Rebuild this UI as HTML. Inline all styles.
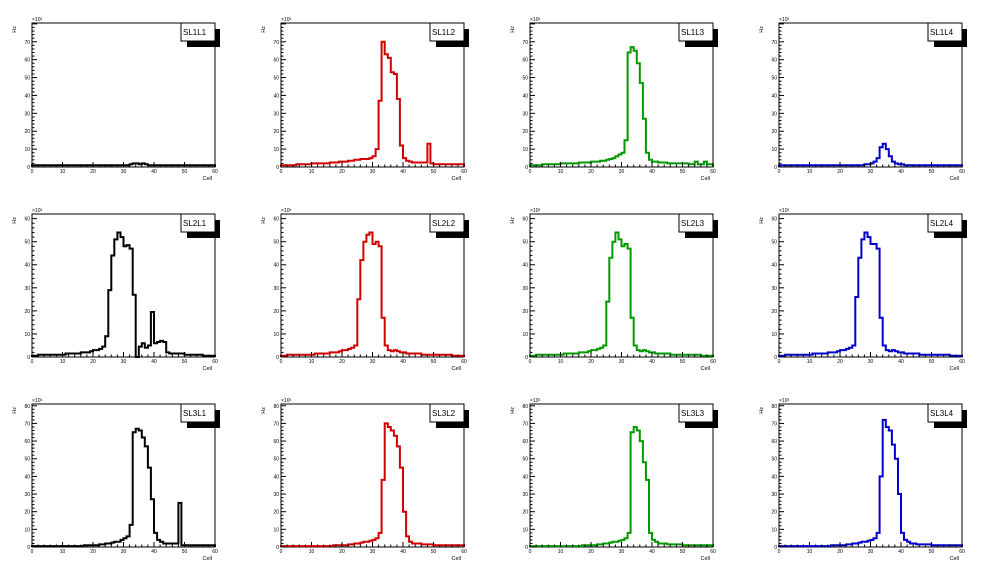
<!DOCTYPE html>
<html><head><meta charset="utf-8"><style>
body{margin:0;background:#fff;}
svg{display:block;font-family:"Liberation Sans",sans-serif;}
</style></head><body>
<svg id="c" width="996" height="572"></svg>
<script>
const titles=["SL1L1","SL1L2","SL1L3","SL1L4","SL2L1","SL2L2","SL2L3","SL2L4","SL3L1","SL3L2","SL3L3","SL3L4"];
const colors=["#000","#d00000","#009900","#0000cc"];
const rowYmax=[80.5,62,81];
const xTicks=[0,10,20,30,40,50,60];
const yTicksRow=[[0,10,20,30,40,50,60,70],[0,10,20,30,40,50,60],[0,10,20,30,40,50,60,70,80]];
const hSL1L1=[1,1,1,1,1,1,1,1,1,1,1,1,1,1,1,1,1,1,1,1,1,1,1,1,1,1,1,1,1,1,1,1,1.5,2,2,1.5,2,1.5,1,1,1,1,1,1,1,1,1,1,1,1,1,1,1,1,1,1,1,1,1,1];
const hSL1L2=[1,1,1,1,1,1.5,1.5,1.5,1.5,1.5,2,2,2,2,2,2,2.5,2.5,2.5,3,3,3,3.5,3.5,4,4,4.5,4.5,4.5,5,6,10,37,70,63,61,53,52,38,12,5,3.5,3,2.5,2.5,2.5,2.5,2.5,13,2,1.5,1.5,1.5,1.5,1.5,1.5,1.5,1.5,1.5,1.5];
const hSL1L3=[1,1,1,1,1.5,1.5,1.5,1.5,1.5,1.5,2,2,2,2,2,2,2.5,2.5,2.5,2.5,3,3,3,3.5,3.5,4,4.5,5,6,7,8,15,64,67,65,58,47,27,8,4,3,3,2.5,2.5,2.5,2,2,2,2,2,2,2,1.5,1.5,3,1.5,1.5,3,1.5,1.5];
const hSL1L4=[1,1,1,1,1,1,1,1,1,1,1,1,1,1,1,1,1,1,1,1,1,1,1,1,1,1,1,1,1.5,1.5,2,3,5,11,13,10,6,3,2,1.5,1.5,1,1,1,1,1,1,1,1,1,1,1,1,1,1,1,1,1,1,1];
const hSL2L1=[0.5,0.5,1,1,1,1,1,1,1,1,1,1.5,1.5,1.5,1.5,1.5,2,2,2,2.5,3,3,3.5,4.5,9,29,44,51,54,52,48,48.5,47,27,0,4.5,6,4,5,19.5,6,6.5,7,6.5,2,1.5,1.5,1.5,1.5,1.5,1,1,1,1,1,1,0.5,0.5,0.5,0.5];
const hSL2L2=[0.5,0.5,1,1,1,1,1,1,1,1,1,1.5,1.5,1.5,1.5,1.5,2,2,2,2.5,3,3,3.5,4,5,25,42,50,53,54,49,50,48,17,5,3,2.5,3,2.5,2,2,1.5,1.5,1.5,1.5,1.5,1,1,1,1,1,1,1,1,1,1,0.5,0.5,0.5,0.5];
const hSL2L3=[0.5,0.5,1,1,1,1,1,1,1,1,1,1.5,1.5,1.5,1.5,1.5,2,2,2,2.5,3,3,3.5,4,5,24,43,50,54,51,48,49,47,17,5,3,2.5,3,2.5,2,2,1.5,1.5,1.5,1.5,1.5,1,1,1,1,1,1,1,1,1,1,0.5,0.5,0.5,0.5];
const hSL2L4=[0.5,0.5,1,1,1,1,1,1,1,1,1,1.5,1.5,1.5,1.5,1.5,2,2,2,2.5,3,3,3.5,4,5,26,43,51,54,52,49,49,47,17,5,3,2.5,3,2.5,2,2,1.5,1.5,1.5,1.5,1.5,1,1,1,1,1,1,1,1,1,1,0.5,0.5,0.5,0.5];
const hSL3L1=[0.5,0.5,0.5,0.5,0.5,0.5,0.5,0.5,0.5,0.5,0.5,0.5,0.5,0.5,0.5,0.5,0.5,1,1,1,1,1,1.5,1.5,2,2,2.5,3,3,4,5,6,12.5,65,67,66,62,57,45,27,8,4,3,2,2,2,2,2,25,1,1,1,1,1,1,1,1,1,1,1];
const hSL3L2=[0.5,0.5,0.5,0.5,0.5,0.5,0.5,0.5,0.5,0.5,0.5,0.5,0.5,0.5,0.5,0.5,0.5,1,1,1,1,1,1.5,1.5,2,2,2.5,3,3,3.5,4,5,8,38,70,68,66,63,57,45,20,6,3,2,2,2,1.5,1.5,1.5,1.5,1,1,1,1,1,1,1,1,1,1];
const hSL3L3=[0.5,0.5,0.5,0.5,0.5,0.5,0.5,0.5,0.5,0.5,0.5,0.5,0.5,0.5,0.5,0.5,0.5,1,1,1,1,1,1.5,1.5,2,2,2.5,3,3,3.5,4,5,8,65,68,66,60,48,38,8,4,3,2,2,2,1.5,1.5,1.5,1.5,1.5,1,1,1,1,1,1,1,1,1,1];
const hSL3L4=[0.5,0.5,0.5,0.5,0.5,0.5,0.5,0.5,0.5,0.5,0.5,0.5,0.5,0.5,0.5,0.5,0.5,1,1,1,1,1,1.5,1.5,2,2,2.5,3,3,3.5,4,5,8,40,72,68,66,58,50,30,8,4,3,2,2,1.5,1.5,1.5,1.5,1.5,1,1,1,1,1,1,1,1,1,1];
const hists=[hSL1L1,hSL1L2,hSL1L3,hSL1L4,hSL2L1,hSL2L2,hSL2L3,hSL2L4,hSL3L1,hSL3L2,hSL3L3,hSL3L4];

const NS="http://www.w3.org/2000/svg";
const svg=document.getElementById('c');
function mk(tag,attrs,parent){const e=document.createElementNS(NS,tag);for(const k in attrs)e.setAttribute(k,attrs[k]);(parent||svg).appendChild(e);return e;}
const rowFrames=[[23,167],[214,357],[404,547]];
for(let p=0;p<12;p++){
  const r=Math.floor(p/4),c=p%4;
  const L=32+249*c,R=215+249*c,T=rowFrames[r][0],B=rowFrames[r][1];
  const ymax=rowYmax[r];
  const xs=v=>L+(R-L)*v/60;
  const ys=v=>B-(B-T)*v/ymax;
  const g=mk('g',{});
  
  
  const fr=mk('rect',{x:L,y:T,width:R-L,height:B-T,fill:'none',stroke:'#000','stroke-width':1},g);
  
  
  // histogram
  const h=hists[p];
  let d='M'+xs(0)+','+ys(0);
  for(let i=0;i<h.length;i++){d+=' V'+ys(h[i]).toFixed(1)+' H'+xs(i+1).toFixed(1);}
  d+=' V'+ys(0);
  const path=mk('path',{d:d,fill:'none',stroke:colors[c],'stroke-width':2},g);
  
  
  // x ticks
  const ax=mk('g',{},g);
  
  
  for(let v=0;v<=60;v+=2){const maj=v%10===0;mk('line',{x1:xs(v),x2:xs(v),y1:B,y2:B-(maj?5:2.5),stroke:'#000','stroke-width':1},ax);}
  xTicks.forEach(v=>{const t=mk('text',{x:xs(v),y:B+6,'font-size':5,'text-anchor':'middle',fill:'#000'},ax);t.textContent=v;
    
    });
  const xt=mk('text',{x:R-3,y:B+13,'font-size':5.5,'text-anchor':'end',fill:'#000'},g);xt.textContent='Cell';
  
  
  // y ticks
  const ay=mk('g',{},g);
  
  
  for(let v=0;v<=ymax;v+=2){const maj=v%10===0;mk('line',{x1:L,x2:L+(maj?5:2.5),y1:ys(v),y2:ys(v),stroke:'#000','stroke-width':1},ay);}
  yTicksRow[r].forEach(v=>{const t=mk('text',{x:L-2,y:ys(v)+2,'font-size':5,'text-anchor':'end',fill:'#000'},ay);t.textContent=v;
    
    });
  const ex=mk('text',{x:L,y:T-2,'font-size':5,fill:'#000'},g);ex.textContent='×10³';
  
  
  const yt=mk('text',{x:0,y:0,'font-size':5.5,'text-anchor':'end',fill:'#000',transform:`translate(${L-16},${T+3}) rotate(-90)`},g);yt.textContent='Hz';
  
  
  // legend / title box
  const lg=mk('g',{},g);
  
  
  mk('rect',{x:L+155,y:T+6,width:33,height:18,fill:'#000'},lg);
  mk('rect',{x:L+149,y:T,width:34,height:18,fill:'#fff',stroke:'#000','stroke-width':1},lg);
  const tt=mk('text',{x:L+151,y:T+12,'font-size':8,fill:'#000'},lg);tt.textContent=titles[p];
}
</script>
</body></html>
